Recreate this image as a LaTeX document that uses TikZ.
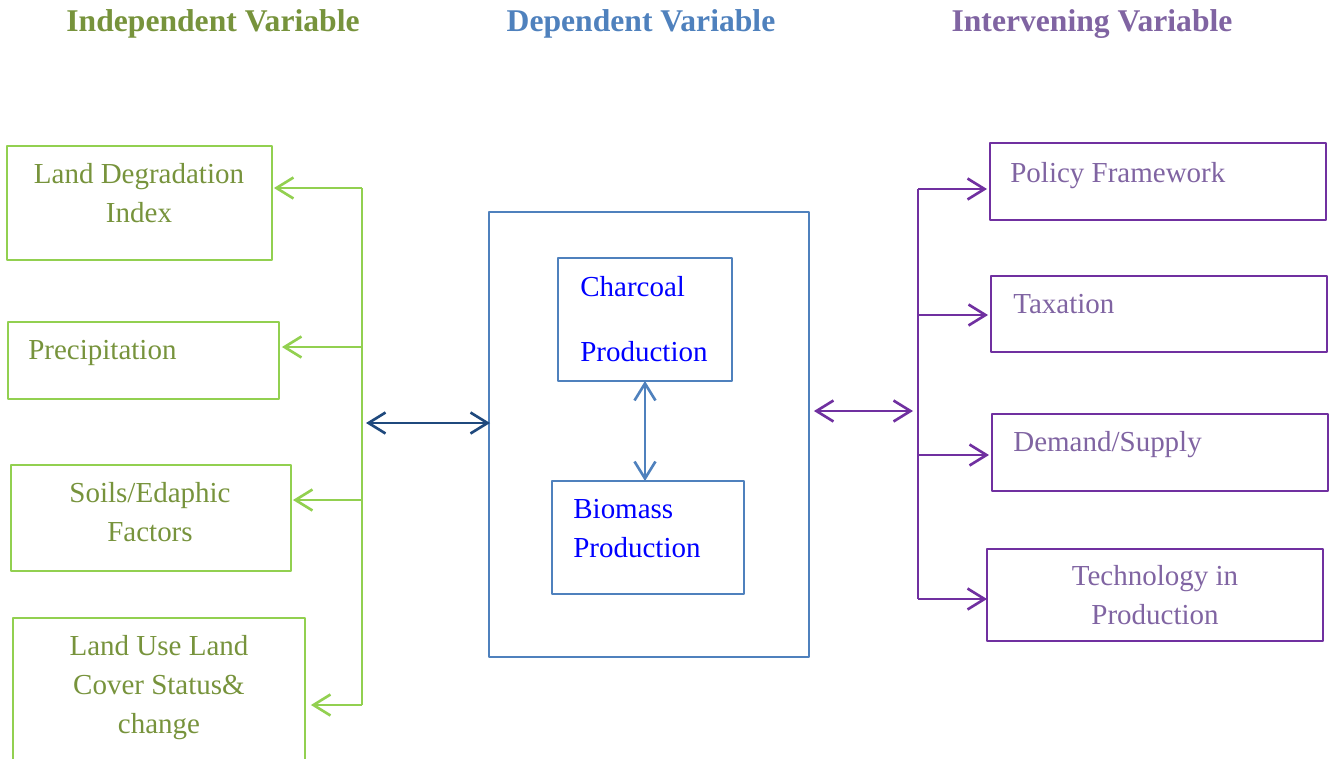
\documentclass[tikz,border=0pt]{standalone}
\usepackage{fontspec}
\setmainfont{Liberation Serif}
\usetikzlibrary{arrows.meta,positioning,calc}
\definecolor{gline}{HTML}{92D050}
\definecolor{gtext}{HTML}{77933C}
\definecolor{bline}{HTML}{4F81BD}
\definecolor{btext}{HTML}{0000FF}
\definecolor{darkb}{HTML}{1F497D}
\definecolor{pline}{HTML}{7030A0}
\definecolor{ptext}{HTML}{8064A2}
\tikzset{
frame/.style = {draw, rectangle, anchor=north west, outer sep=0pt, inner sep=0pt, line width=1.3pt},
gbox/.style  = {frame, gline},
bbox/.style  = {frame, bline},
pbox/.style  = {frame, pline},
body/.style  = {inner sep=0pt, font=\fontsize{16.5pt}{22pt}\selectfont},
head/.style  = {inner sep=0pt, anchor=base, font=\fontsize{18pt}{22pt}\selectfont\bfseries},
gtxt/.style  = {body, text=gtext, align=center, anchor=base},
btxt/.style  = {body, text=btext, align=left, anchor=base west},
ptxt/.style  = {body, text=ptext, align=left, anchor=base west},
link/.style  = {line width=1.5pt}
}

\begin{document}
\begin{tikzpicture}[x=0.02cm, y=-0.02cm, line join=round, >={Straight Barb[length=3.4mm,width=4.2mm]}]
  \useasboundingbox (0,0) rectangle (1332,758);

  \node [head, text=gtext] (hind) at (213,31)  {Independent Variable};
  \node [head, text=bline] (hdep) at (641,31)  {Dependent Variable};
  \node [head, text=ptext] (hint) at (1092,31) {Intervening Variable};

  \node [gbox, minimum width=5.30cm, minimum height=2.28cm] (ldi)  at (7,146)  {};
  \node [gbox, minimum width=5.42cm, minimum height=1.54cm] (prec) at (8,322)  {};
  \node [gbox, minimum width=5.60cm, minimum height=2.12cm] (soil) at (11,465) {};
  \node [gbox, minimum width=5.84cm, minimum height=3.20cm] (lulc) at (13,618) {};

  \node [gtxt] (ldit)  at (139,222) {Land Degradation\\Index};
  \node [gtxt, anchor=base west] (prect) at (28,359) {Precipitation};
  \node [gtxt] (soilt) at (150,541) {Soils/Edaphic\\Factors};
  \node [gtxt] (lulct) at (159,733) {Land Use Land\\Cover Status\&\\change};

  \node [bbox, minimum width=6.40cm, minimum height=8.90cm] (dep)  at (489,212) {};
  \node [bbox, minimum width=3.48cm, minimum height=2.46cm] (char) at (558,258) {};
  \node [bbox, minimum width=3.84cm, minimum height=2.26cm] (bio)  at (552,481) {};

  \node [btxt] (chart) at (580,361) {Charcoal\\[15pt]Production};
  \node [btxt] (biot)  at (573,557) {Biomass\\Production};

  \node [pbox, minimum width=6.72cm, minimum height=1.54cm] (pol)  at (990,143) {};
  \node [pbox, minimum width=6.72cm, minimum height=1.52cm] (tax)  at (991,276) {};
  \node [pbox, minimum width=6.72cm, minimum height=1.54cm] (dem)  at (992,414) {};
  \node [pbox, minimum width=6.72cm, minimum height=1.84cm] (tech) at (987,549) {};

  \node [ptxt] (polt)  at (1010,182) {Policy Framework};
  \node [ptxt] (taxt)  at (1013,313) {Taxation};
  \node [ptxt] (demt)  at (1013,451) {Demand/Supply};
  \node [ptxt, align=center, anchor=base] (techt) at (1155,624) {Technology in\\Production};

  \coordinate (g1) at (362,188);
  \coordinate (g2) at (362,347);
  \coordinate (g3) at (362,500);
  \coordinate (g4) at (362,705);
  \coordinate (gm) at (366,423);

  \coordinate (p1) at (918,189);
  \coordinate (p2) at (918,315);
  \coordinate (p3) at (918,455);
  \coordinate (p4) at (918,599);
  \coordinate (pm) at (913,411);

  \draw [link, gline] (g1) -- (g4);
  \draw [link, gline, ->] (g1) -- ($(g1 -| ldi.east)+(2,0)$);
  \draw [link, gline, ->] (g2) -- ($(g2 -| prec.east)+(3,0)$);
  \draw [link, gline, ->] (g3) -- ($(g3 -| soil.east)+(2,0)$);
  \draw [link, gline, ->] (g4) -- ($(g4 -| lulc.east)+(6,0)$);

  \draw [link, darkb, <->] (gm) -- ($(gm -| dep.west)+(1,0)$);

  \draw [link, bline, <->] (char.south) -- (char.south |- bio.north);

  \draw [link, pline, <->] ($(dep.east |- pm)+(5,0)$) -- (pm);

  \draw [link, pline] (p1) -- (p4);
  \draw [link, pline, ->] (p1) -- ($(p1 -| pol.west)-(3,0)$);
  \draw [link, pline, ->] (p2) -- ($(p2 -| tax.west)-(3,0)$);
  \draw [link, pline, ->] (p3) -- ($(p3 -| dem.west)-(3,0)$);
  \draw [link, pline, ->] (p4) -- (p4 -| tech.west);
\end{tikzpicture}
\end{document}
